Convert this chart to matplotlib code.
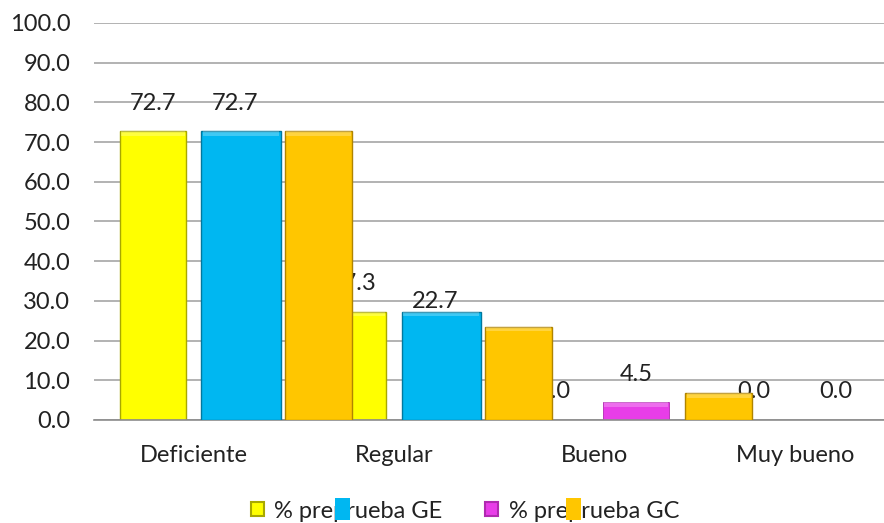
import matplotlib
matplotlib.use("Agg")
import matplotlib.pyplot as plt
from matplotlib.patches import Rectangle
import numpy as np

# ---- data -------------------------------------------------------------
categories = ["Deficiente", "Regular", "Bueno", "Muy bueno"]
pre_ge = [72.7, 27.3, 0.0, 0.0]        # % preprueba GE
pre_gc = [72.7, 22.7, 4.5, 0.0]        # % preprueba GC
# second group of bars laid over the chart (no labels)
over_blue = [72.7, 27.3, 0.0, 0.0]
over_orange = [72.7, 23.5, 6.7, 0.0]
legend_labels = ["% preprueba GE", "% preprueba GC"]
y_ticks = [0, 10, 20, 30, 40, 50, 60, 70, 80, 90, 100]

# ---- style ------------------------------------------------------------
YELLOW, YELLOW_EDGE = "#FFFF00", "#A8A800"
MAGENTA, MAGENTA_EDGE = "#E83DE8", "#B02AB0"
BLUE, BLUE_EDGE = "#00B7F1", "#00789E"
ORANGE, ORANGE_EDGE = "#FFC600", "#B08400"
GRID = "#A6A6A6"
TEXT = "#222222"
FS = 17

plt.rcParams["font.family"] = ["Lato", "DejaVu Sans"]

W, H = 884, 523
fig = plt.figure(figsize=(W / 100, H / 100), dpi=100)
ax = fig.add_axes([94 / W, (H - 420) / H, (W - 94) / W, (420 - 23) / H])

x = np.arange(len(categories))
cat_px = 200.3
ax.set_xlim(-0.5, -0.5 + (W - 94) / cat_px)
ax.set_ylim(0, 100)

# gridlines
ax.set_yticks(y_ticks)
ax.set_yticklabels([f"{v:.1f}" for v in y_ticks])
ax.yaxis.grid(True, color=GRID, linewidth=1.2, zorder=0)
ax.set_axisbelow(True)
for s in ["top", "right", "left"]:
    ax.spines[s].set_visible(False)
ax.spines["bottom"].set_color("#8C8C8C")
ax.spines["bottom"].set_linewidth(1.2)
ax.tick_params(axis="y", length=0, pad=17, labelsize=FS, labelcolor=TEXT)
ax.set_xticks(x)
ax.set_xticklabels(categories)
ax.tick_params(axis="x", length=0, pad=18, labelsize=FS, labelcolor=TEXT)


def bars(offset, values, width, color, edge, z, lw=1.0):
    for xi, v in zip(x, values):
        if v <= 0:
            continue
        ax.bar(xi + offset, v, width=width, color=color, edgecolor=edge,
               linewidth=lw, zorder=z)
        # light bevel along the top
        h = min(1.2, v * 0.3)
        ax.bar(xi + offset, h, bottom=v - h, width=width * 0.96,
               color="white", alpha=0.25, linewidth=0, zorder=z + 0.1)


# main clustered series
off = 0.205
bw = 0.33
bars(-off, pre_ge, bw, YELLOW, YELLOW_EDGE, 2)
bars(off, pre_gc, bw, MAGENTA, MAGENTA_EDGE, 2, lw=0.6)

label_dy = 28 * 72 / 100
for xs, vals in ((x - off, pre_ge), (x + off, pre_gc)):
    for xi, v in zip(xs, vals):
        ax.annotate(f"{v:.1f}", (xi, v), xytext=(0, label_dy),
                    textcoords="offset points", ha="center", va="center",
                    fontsize=FS, color=TEXT, zorder=3)

# overlaid group
bars(0.234, over_blue, 0.395, BLUE, BLUE_EDGE, 5)
bars(0.62, over_orange, 0.335, ORANGE, ORANGE_EDGE, 5)

# legend
handles = [Rectangle((0, 0), 1, 1, facecolor=YELLOW, edgecolor=YELLOW_EDGE, linewidth=1.5),
           Rectangle((0, 0), 1, 1, facecolor=MAGENTA, edgecolor=MAGENTA_EDGE, linewidth=1.5)]
fig.legend(handles, legend_labels, loc="center", ncol=2,
           bbox_to_anchor=(465 / W, 1 - 511 / H), frameon=False,
           fontsize=FS, handlelength=0.55, handleheight=0.55,
           handletextpad=0.45, columnspacing=1.8, labelcolor=TEXT)

# keys of the overlaid group, sitting on the legend row
for x0, c in ((335, BLUE), (566, ORANGE)):
    fig.patches.append(Rectangle((x0 / W, 1 - 520 / H), 15 / W, 22 / H,
                                 transform=fig.transFigure, facecolor=c,
                                 edgecolor="none", zorder=10))

fig.savefig("out.png", dpi=100)
